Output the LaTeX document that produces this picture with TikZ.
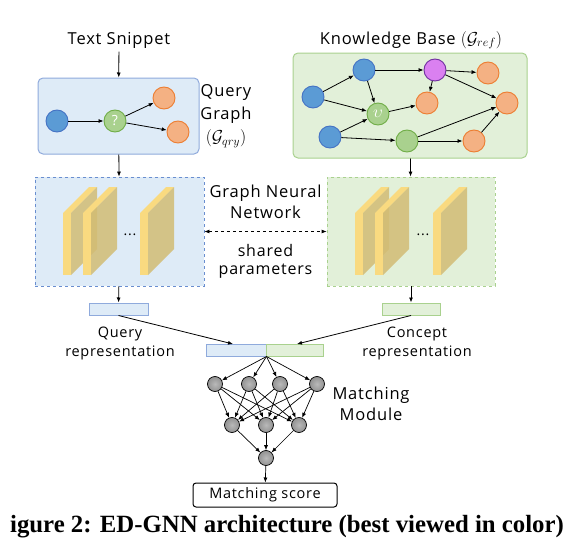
\documentclass[tikz,border=0pt]{standalone}
\usepackage{fontspec}
\setsansfont{Open Sans}[LetterSpace=5]
\newfontfamily\capfont{Liberation Serif}
\usetikzlibrary{arrows.meta,positioning}

\definecolor{qfill}{HTML}{DEEBF7}
\definecolor{qline}{HTML}{8FAADC}
\definecolor{kfill}{HTML}{E2F0D9}
\definecolor{kline}{HTML}{A9D18E}
\definecolor{bluefill}{HTML}{5B9BD5}
\definecolor{blueline}{HTML}{4472C4}
\definecolor{orfill}{HTML}{F4B183}
\definecolor{orline}{HTML}{ED7D31}
\definecolor{grfill}{HTML}{A9D18E}
\definecolor{grline}{HTML}{70AD47}
\definecolor{pufill}{HTML}{DA80F0}
\definecolor{puline}{HTML}{7030A0}
\definecolor{slabfront}{HTML}{F9DA80}
\definecolor{slabside}{HTML}{D2BC74}

\tikzset{
  arr/.style={-{Latex[length=5pt,width=4pt]},line width=0.8pt},
  ent/.style={circle,line width=0.9pt,minimum size=22pt,inner sep=0pt},
  bluent/.style={ent,draw=blueline,fill=bluefill},
  orent/.style={ent,draw=orline,fill=orfill},
  grent/.style={ent,draw=grline,fill=grfill,text=white},
  puent/.style={ent,draw=puline,fill=pufill},
  neuron/.style={circle,draw=black,line width=0.7pt,inner color=gray!55,outer color=gray!85,minimum size=15pt,inner sep=0pt},
  lbl/.style={font=\sffamily\fontsize{16.5}{21}\selectfont,align=center},
  smalllbl/.style={font=\sffamily\fontsize{14.5}{19}\selectfont,align=center},
  bar/.style={rectangle,line width=1pt,minimum height=12pt,inner sep=0pt}
}

\begin{document}
\begin{tikzpicture}[x=1pt,y=-1pt]
  \useasboundingbox (0,0) rectangle (574,546);

  % input text and query graph
  \node[lbl] (snippet) at (119,40) {Text Snippet};
  \node[rectangle,rounded corners=5pt,draw=qline,fill=qfill,line width=1pt,
        minimum width=161pt,minimum height=76pt] (qbox) at (118.5,116) {};
  \node[bluent] (q1) at (57,121) {};
  \node[grent,font=\sffamily\fontsize{14}{14}\selectfont] (q2) at (115,121) {?};
  \node[orent] (q3) at (164,98) {};
  \node[orent] (q4) at (178,132) {};
  \draw[arr] (q1) -- (q2);
  \draw[arr] (q2) -- (q3);
  \draw[arr] (q2) -- (q4);
  \node[lbl,font=\sffamily\fontsize{16.5}{23}\selectfont] (qlabel) at (226,116) {Query\\Graph\\$(\mathcal{G}_{qry})$};
  \draw[arr] (snippet) -- (qbox);

  % knowledge base
  \node[lbl] (kblabel) at (411,40) {Knowledge Base $(\mathcal{G}_{ref})$};
  \node[rectangle,rounded corners=5pt,draw=kline,fill=kfill,line width=1pt,
        minimum width=234pt,minimum height=105pt] (kbox) at (410,105.5) {};
  \node[bluent] (ka) at (313,97) {};
  \node[bluent] (kb) at (364,70) {};
  \node[bluent] (kc) at (330,137) {};
  \node[grent,font=\fontsize{18}{18}\selectfont] (kv) at (378,114) {$\upsilon$};
  \node[grent] (kd) at (407,141) {};
  \node[puent] (kp) at (435,70) {};
  \node[orent] (ke) at (488,73) {};
  \node[orent] (kf) at (427,103) {};
  \node[orent] (kg) at (507,103) {};
  \node[orent] (kh) at (474,141) {};
  \draw[arr] (ka) -- (kb);
  \draw[arr] (ka) -- (kv);
  \draw[arr] (kb) -- (kv);
  \draw[arr] (kb) -- (kp);
  \draw[arr] (kp) -- (ke);
  \draw[arr] (kp) -- (kf);
  \draw[arr] (kp) -- (kg);
  \draw[arr] (kv) -- (kf);
  \draw[arr] (kc) -- (kv);
  \draw[arr] (kc) -- (kd);
  \draw[arr] (kd) -- (kh);
  \draw[arr] (kd) -- (kg);
  \draw[arr] (kh) -- (kg);

  % graph neural networks
  \node[rectangle,draw=blueline!80,fill=qfill,dashed,line width=0.8pt,
        minimum width=169pt,minimum height=109pt] (gq) at (119.5,231.5) {};
  \node[rectangle,draw=kline,fill=kfill,dashed,line width=0.8pt,
        minimum width=168pt,minimum height=109pt] (gc) at (411,231.5) {};
  \foreach \bx in {63,83,140,355,375,433}{
    \fill[slabfront] (\bx,213) -- (\bx+8,213) -- (\bx+34,187) -- (\bx+26,187) -- cycle;
    \fill[slabfront] (\bx,213) rectangle (\bx+8,275);
    \fill[slabside,opacity=0.85] (\bx+8,213) -- (\bx+34,187) -- (\bx+34,249) -- (\bx+8,275) -- cycle;
  }
  \node[font=\sffamily\fontsize{14}{14}\selectfont] (dotsq) at (130,235) {...};
  \node[font=\sffamily\fontsize{14}{14}\selectfont] (dotsc) at (423,235) {...};
  \draw[arr] (qbox) -- (gq);
  \draw[arr] (kbox) -- (gc);
  \node[lbl] (gnn) at (265.5,202) {Graph Neural\\Network};
  \draw[{Latex[length=5pt,width=4pt]}-{Latex[length=5pt,width=4pt]},dashed,line width=0.8pt] (gq.east) -- (gc.west);
  \node[lbl,font=\sffamily\fontsize{16}{18}\selectfont] (shared) at (265.5,261) {shared\\parameters};

  % representations
  \node[bar,draw=qline,fill=qfill,minimum width=59pt] (qrep) at (118.5,309) {};
  \node[bar,draw=kline,fill=kfill,minimum width=58pt] (crep) at (411,309) {};
  \draw[arr] (gq) -- (qrep);
  \draw[arr] (gc) -- (crep);
  \node[smalllbl] (qreplabel) at (120,343.5) {Query\\representation};
  \node[smalllbl] (creplabel) at (417,343.5) {Concept\\representation};
  \node[bar,draw=qline,fill=qfill,minimum width=60pt] (cq) at (236,350) {};
  \node[bar,draw=kline,fill=kfill,minimum width=57pt] (cc) at (294.5,350) {};
  \coordinate (jn) at (cq.south east);
  \draw[arr] (qrep.south) -- (233,344);
  \draw[arr] (crep.south) -- (297,344);

  % matching module
  \node[neuron] (m1) at (215,384) {};
  \node[neuron] (m2) at (249,384) {};
  \node[neuron] (m3) at (280,384) {};
  \node[neuron] (m4) at (317,384) {};
  \node[neuron] (h1) at (232,425) {};
  \node[neuron] (h2) at (266,425) {};
  \node[neuron] (h3) at (299,425) {};
  \node[neuron] (out) at (266,458) {};
  \foreach \m in {m1,m2,m3,m4}{
    \draw[arr,line width=0.7pt] (jn) -- (\m);
    \foreach \h in {h1,h2,h3}
      \draw[arr,line width=0.7pt] (\m) -- (\h);
  }
  \foreach \h in {h1,h2,h3}
    \draw[arr,line width=0.7pt] (\h) -- (out);
  \node[lbl] (mmlabel) at (371,403.5) {Matching\\Module};
  \node[rectangle,rounded corners=3pt,draw=black,line width=1pt,minimum width=144pt,minimum height=24pt,
        smalllbl] (score) at (265,495) {Matching score};
  \draw[arr,line width=0.7pt] (out) -- (score);

  % caption, as left by the page crop
  \node[inner sep=0pt,font=\capfont\bfseries\fontsize{24.8}{28}\selectfont] (caption) at (287,527)
    {igure 2: ED-GNN architecture (best viewed in color)};
\end{tikzpicture}
\end{document}
